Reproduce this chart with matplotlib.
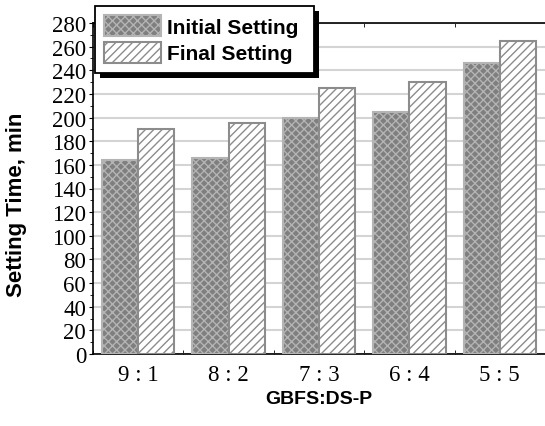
import numpy as np
import matplotlib
matplotlib.use("Agg")
import matplotlib.pyplot as plt
from matplotlib.patches import Rectangle
from matplotlib.ticker import MultipleLocator

# data
ratios = ["9 : 1", "8 : 2", "7 : 3", "6 : 4", "5 : 5"]
initial_setting = [164, 166, 200, 205, 246]
final_setting = [190, 195, 225, 230, 265]

plt.rcParams['hatch.linewidth'] = 1.0

W, H = 545, 427
fig = plt.figure(figsize=(W/100, H/100), dpi=100)
ax = fig.add_axes([93/W, 1-355/H, 1-93/W, (355-24)/H])

x = np.arange(len(ratios))
w = 0.4
ax.bar(x - w/2, initial_setting, w, color='#7f7f7f', edgecolor='#b4b4b4',
       hatch='xxxx', linewidth=1.5, label='Initial Setting', zorder=3)
ax.bar(x + w/2, final_setting, w, color='white', edgecolor='#8c8c8c',
       hatch='////', linewidth=1.5, label='Final Setting', zorder=3)

ax.set_xlim(-0.5, 4.5)
ax.set_ylim(0, 280)
ax.yaxis.set_major_locator(MultipleLocator(20))
ax.yaxis.set_minor_locator(MultipleLocator(10))
ax.set_xticks(x)
ax.set_xticklabels(ratios)
ax.xaxis.set_minor_locator(MultipleLocator(1, offset=0.5))
ax.grid(axis='y', color='#d4d4d4', linewidth=1.5, zorder=0)
ax.set_axisbelow(True)

serif = 'Liberation Serif'
for lab in ax.get_xticklabels() + ax.get_yticklabels():
    lab.set_fontfamily(serif)
    lab.set_fontsize(16.5)
ax.tick_params(axis='x', which='major', length=0, pad=7)
ax.tick_params(axis='x', which='minor', direction='in', length=3, top=True)
ax.tick_params(axis='y', which='major', direction='out', length=3, pad=2)
ax.tick_params(axis='y', which='minor', direction='out', length=2)

for s in ['left', 'bottom', 'top']:
    ax.spines[s].set_linewidth(1.2)
ax.spines['right'].set_visible(False)

ax.set_ylabel('Setting Time, min', fontfamily='Liberation Sans',
              fontweight='bold', fontsize=16)
ax.yaxis.set_label_coords(-0.146, 0.453)
ax.set_xlabel('GBFS:DS-P', fontfamily='Liberation Sans',
              fontweight='bold', fontsize=14, labelpad=4)

# legend box with a solid black drop shadow
bx0, by0, bx1, by1 = 95, 7, 314, 74
fig.patches.append(Rectangle(((bx0 + 5)/W, 1-(by1 + 5)/H), (bx1-bx0)/W, (by1-by0)/H,
                             transform=fig.transFigure, facecolor='black',
                             edgecolor='none', zorder=9))
fig.patches.append(Rectangle((bx0/W, 1-by1/H), (bx1-bx0)/W, (by1-by0)/H,
                             transform=fig.transFigure, facecolor='white',
                             edgecolor='black', linewidth=1.3, zorder=9.5))
leg = ax.legend(loc='upper left', bbox_to_anchor=(bx0/W, 1-by0/H),
                bbox_transform=fig.transFigure, borderaxespad=0,
                frameon=False,
                prop={'family': 'Liberation Sans', 'weight': 'bold', 'size': 15},
                handlelength=2.7, handleheight=1.15, handletextpad=0.3,
                labelspacing=0.25, borderpad=0.45)
leg.remove()
leg.set_zorder(10)
fig.add_artist(leg)

fig.savefig('out.png', dpi=100)
